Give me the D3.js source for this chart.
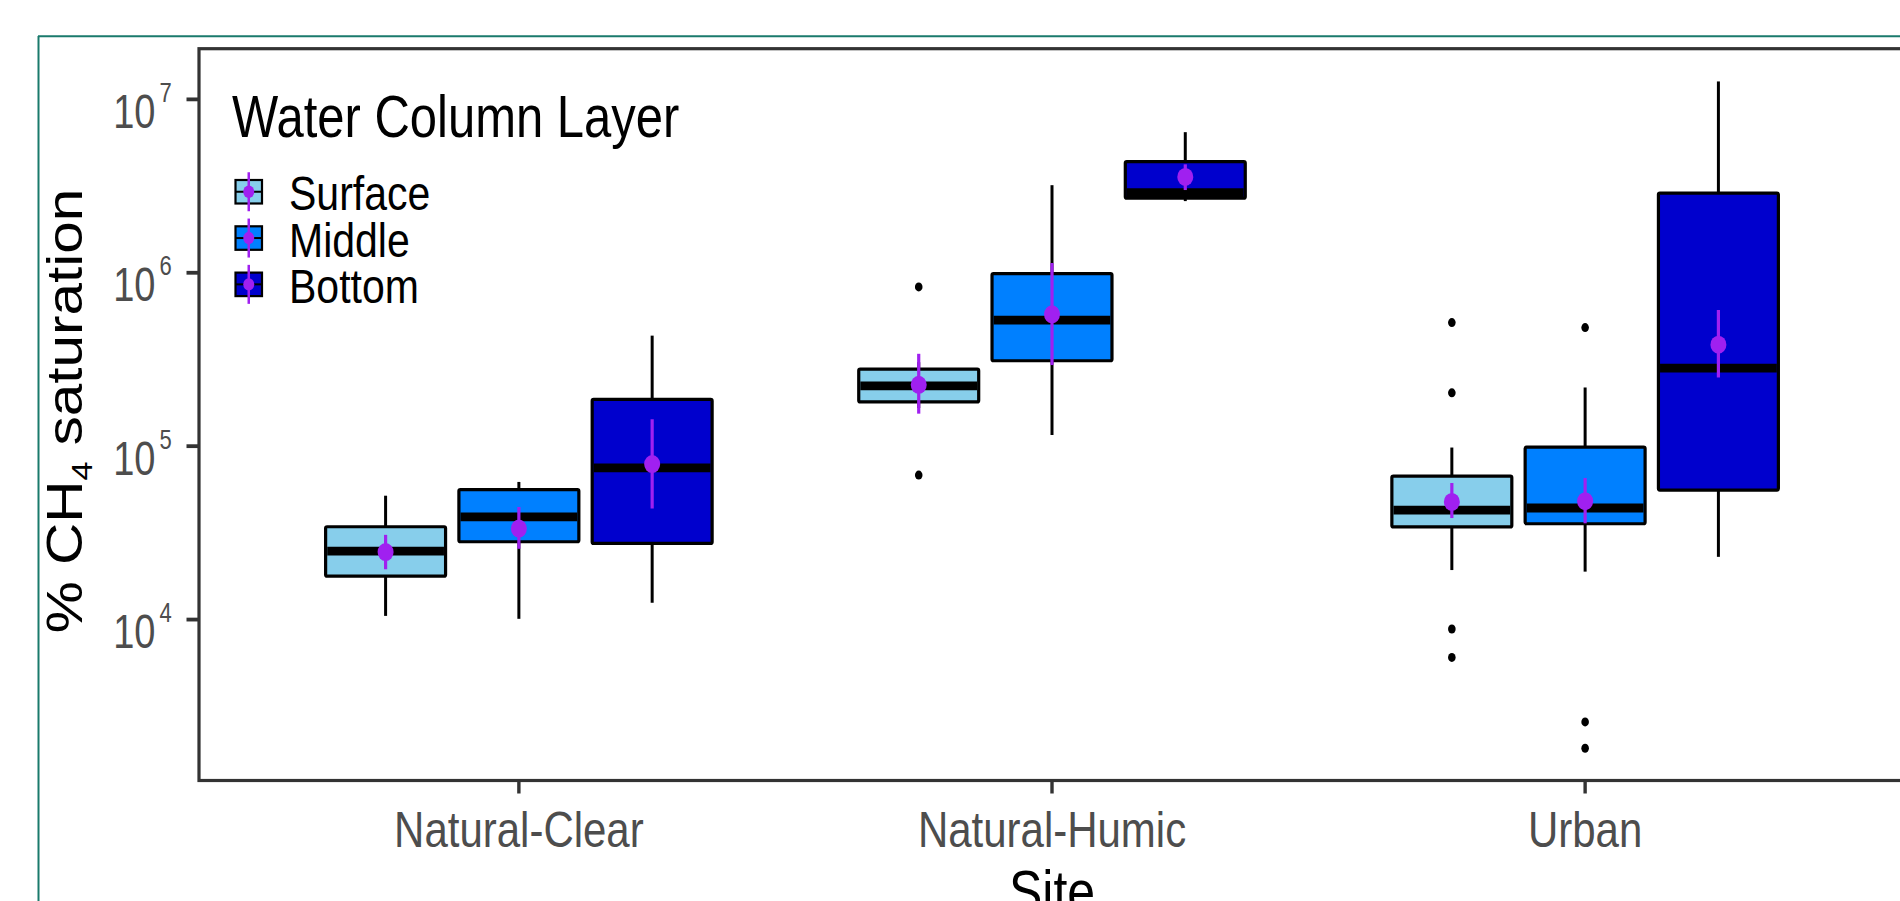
<!DOCTYPE html>
<html>
<head>
<meta charset="utf-8">
<script src="https://cdn.jsdelivr.net/npm/d3@7/dist/d3.min.js"></script>
<style>
  html, body { margin: 0; padding: 0; background: #ffffff; }
  svg { display: block; }
  text { font-family: "Liberation Sans", Arial, Helvetica, sans-serif; }
</style>
</head>
<body>
<script>
// ---------------- data ----------------
const sites = ["Natural-Clear", "Natural-Humic", "Urban"];
const layers = ["Surface", "Middle", "Bottom"];
const layerColors = ["#87CEEB", "#0080FF", "#0000CD"];

// box statistics, indexed [site][layer]
const whiskerLow  = [[10500, 10100, 12500], [166000, 116000, 2590000], [19300, 18900, 23000]];
const q1          = [[17800, 28100, 27500], [180000, 311000, 2690000], [34200, 35700, 55800]];
const median      = [[24800, 39100, 75000], [223000, 533000, 2900000], [42800, 44000, 282000]];
const q3          = [[34300, 56200, 186000], [278000, 989000, 4380000], [67200, 98800, 2880000]];
const whiskerHigh = [[51800, 62200, 434000], [305000, 3200000, 6470000], [98200, 218000, 12690000]];
const outliers    = [[[], [], []], [[829000, 68100], [], []], [[516000, 203000, 8820, 6050], [483000, 2570, 1810], []]];

// mean and its error range, indexed [site][layer]
const means    = [[24500, 33500, 78900], [226000, 576000, 3570000], [47700, 48200, 385000]];
const meanLow  = [[19500, 25600, 43700], [154000, 293600, 3000000], [38500, 35900, 249000]];
const meanHigh = [[30800, 44600, 143000], [341000, 1139000, 4220000], [61300, 65500, 610000]];

const yTickExponents = [4, 5, 6, 7];
const yDomain = [1180, 1.96e7];

const legendTitle = "Water Column Layer";
const xTitle = "Site";

// ---------------- layout ----------------
const W = 1900, H = 901;
const panel = { left: 199, right: 1905, top: 48.7, bottom: 780.5 };
const svg = d3.select("body").append("svg").attr("width", W).attr("height", H);

svg.append("rect").attr("width", W).attr("height", H).attr("fill", "#fff");

// outer teal frame
svg.append("line").attr("x1", 38.5).attr("x2", 38.5).attr("y1", 36).attr("y2", H)
  .attr("stroke", "#1a7a6c").attr("stroke-width", 2);
svg.append("line").attr("x1", 38).attr("x2", W).attr("y1", 36.2).attr("y2", 36.2)
  .attr("stroke", "#1a7a6c").attr("stroke-width", 2);

const x = d3.scalePoint().domain(sites).range([panel.left, panel.right]).padding(0.6);
const y = d3.scaleLog().domain(yDomain).range([panel.bottom, panel.top]);
const step = x.step();
const dodge = d3.scaleBand().domain(layers).range([-0.375 * step, 0.375 * step]);
const boxW = dodge.bandwidth() * 0.9;

function stretchedText(g, tx, ty, k, opts) {
  const t = g.append("text")
    .attr("transform", `translate(${tx},${ty}) scale(1,${k})` + (opts.rotate ? ` rotate(${opts.rotate})` : ""))
    .attr("font-size", opts.size)
    .attr("fill", opts.fill || "#000")
    .attr("text-anchor", opts.anchor || "start");
  return t;
}

// ---------------- boxes ----------------
const gBoxes = svg.append("g");
sites.forEach((s, i) => {
  layers.forEach((l, j) => {
    const cx = x(s) + dodge(l) + dodge.bandwidth() / 2;
    const g = gBoxes.append("g");
    // whiskers
    g.append("line").attr("x1", cx).attr("x2", cx)
      .attr("y1", y(q3[i][j])).attr("y2", y(whiskerHigh[i][j]))
      .attr("stroke", "#000").attr("stroke-width", 3);
    g.append("line").attr("x1", cx).attr("x2", cx)
      .attr("y1", y(q1[i][j])).attr("y2", y(whiskerLow[i][j]))
      .attr("stroke", "#000").attr("stroke-width", 3);
    // box
    g.append("rect")
      .attr("x", cx - boxW / 2).attr("width", boxW)
      .attr("y", y(q3[i][j])).attr("height", y(q1[i][j]) - y(q3[i][j]))
      .attr("fill", layerColors[j]).attr("stroke", "#000").attr("stroke-width", 3.2)
      .attr("rx", 1.5);
    // median
    g.append("line").attr("x1", cx - boxW / 2 + 1.6).attr("x2", cx + boxW / 2 - 1.6)
      .attr("y1", y(median[i][j])).attr("y2", y(median[i][j]))
      .attr("stroke", "#000").attr("stroke-width", 8.8);
    // outliers
    outliers[i][j].forEach(v => {
      g.append("ellipse").attr("cx", cx).attr("cy", y(v)).attr("rx", 3.8).attr("ry", 4.5).attr("fill", "#000");
    });
  });
});

// mean point ranges on top
const gMeans = svg.append("g");
sites.forEach((s, i) => {
  layers.forEach((l, j) => {
    const cx = x(s) + dodge(l) + dodge.bandwidth() / 2;
    gMeans.append("line").attr("x1", cx).attr("x2", cx)
      .attr("y1", y(meanHigh[i][j])).attr("y2", y(meanLow[i][j]))
      .attr("stroke", "#A020F0").attr("stroke-width", 3.2);
    gMeans.append("ellipse").attr("cx", cx).attr("cy", y(means[i][j]))
      .attr("rx", 8).attr("ry", 9).attr("fill", "#A020F0");
  });
});

// ---------------- panel border & axes ----------------
svg.append("rect")
  .attr("x", panel.left).attr("y", panel.top)
  .attr("width", panel.right - panel.left + 10).attr("height", panel.bottom - panel.top)
  .attr("fill", "none").attr("stroke", "#333333").attr("stroke-width", 3.2);

const gAxes = svg.append("g");
yTickExponents.forEach(e => {
  const ty = y(Math.pow(10, e));
  gAxes.append("line").attr("x1", panel.left - 12.5).attr("x2", panel.left)
    .attr("y1", ty).attr("y2", ty).attr("stroke", "#333333").attr("stroke-width", 3.8);
  stretchedText(gAxes, 155.5, ty + 28.5, 1.25, { size: 38, fill: "#4D4D4D", anchor: "end" }).text("10");
  stretchedText(gAxes, 159.5, ty + 2.6, 1.25, { size: 22, fill: "#4D4D4D", anchor: "start" }).text(String(e));
});

sites.forEach(s => {
  gAxes.append("line").attr("x1", x(s)).attr("x2", x(s))
    .attr("y1", panel.bottom).attr("y2", panel.bottom + 13)
    .attr("stroke", "#333333").attr("stroke-width", 3.4);
  stretchedText(gAxes, x(s), 847, 1.17, { size: 42, fill: "#4D4D4D", anchor: "middle" }).text(s);
});

// axis titles
stretchedText(svg, x(sites[1]), 912, 1.17, { size: 50, anchor: "middle" }).text(xTitle);

const yt = stretchedText(svg, 82, 411, 1.17, { size: 50, anchor: "middle", rotate: -90 });
yt.append("tspan").text("% CH");
yt.append("tspan").attr("font-size", 29).attr("dy", 10).text("4");
yt.append("tspan").attr("dy", -10).text(" saturation");

// ---------------- legend ----------------
const gLeg = svg.append("g");
stretchedText(gLeg, 232, 137, 1.2, { size: 49 }).text(legendTitle);
const keyTop = 180, keyStep = 46.3, keyW = 26.5, keyH = 23.5, keyX = 235.5;
layers.forEach((l, j) => {
  const ky = keyTop + j * keyStep;
  const kcx = keyX + keyW / 2, kcy = ky + keyH / 2;
  gLeg.append("rect").attr("x", keyX).attr("y", ky).attr("width", keyW).attr("height", keyH)
    .attr("fill", layerColors[j]).attr("stroke", "#000").attr("stroke-width", 2.2);
  gLeg.append("line").attr("x1", keyX).attr("x2", keyX + keyW).attr("y1", kcy).attr("y2", kcy)
    .attr("stroke", "#000").attr("stroke-width", 2);
  gLeg.append("line").attr("x1", kcx).attr("x2", kcx).attr("y1", kcy - 19.5).attr("y2", kcy + 19.5)
    .attr("stroke", "#A020F0").attr("stroke-width", 2.5);
  gLeg.append("ellipse").attr("cx", kcx).attr("cy", kcy).attr("rx", 5.5).attr("ry", 6.2).attr("fill", "#A020F0");
  stretchedText(gLeg, 289, kcy + 18.5, 1.17, { size: 41 }).text(l);
});
</script>
</body>
</html>
